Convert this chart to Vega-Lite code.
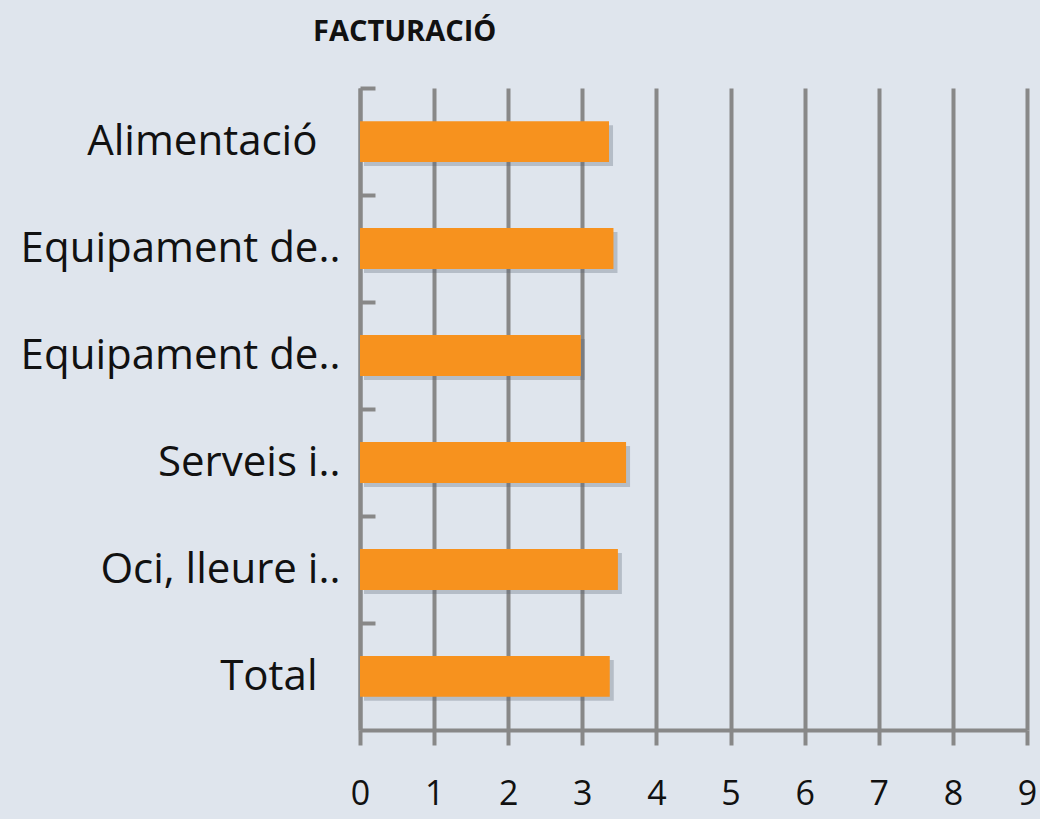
{
  "$schema": "https://vega.github.io/schema/vega-lite/v6.json",
  "width": 667,
  "height": 642,
  "autosize": "none",
  "padding": {"left": 360, "top": 88, "right": 13, "bottom": 89},
  "background": "#dfe5ed",
  "title": {
    "text": "FACTURACIÓ",
    "anchor": "start",
    "frame": "group",
    "dx": -47,
    "offset": 39,
    "font": "Open Sans",
    "fontSize": 29,
    "fontWeight": "bold",
    "color": "#111111"
  },
  "data": {
    "values": [
      {"cat": "Alimentació", "val": 3.36},
      {"cat": "Equipament de..", "val": 3.42},
      {"cat": "Equipament de..\u200b", "val": 2.98},
      {"cat": "Serveis i..", "val": 3.59},
      {"cat": "Oci, lleure i..", "val": 3.48},
      {"cat": "Total", "val": 3.37}
    ]
  },
  "encoding": {
    "y": {
      "field": "cat",
      "type": "nominal",
      "sort": null,
      "title": null,
      "scale": {"paddingInner": 0.617, "paddingOuter": 0.31},
      "axis": {
        "domainColor": "#888888",
        "domainWidth": 4,
        "tickColor": "#888888",
        "tickWidth": 4,
        "tickSize": -15,
        "tickOffset": -53.5,
        "labelOffset": 53.5,
        "labelPadding": {
          "condition": {"test": "datum.value == 'Alimentació' || datum.value == 'Total'", "value": 58},
          "value": 35
        },
        "labelLimit": 600,
        "labelFont": "Open Sans",
        "labelFontSize": 42,
        "labelColor": "#111111",
        "grid": false
      }
    },
    "x": {
      "field": "val",
      "type": "quantitative",
      "title": null,
      "scale": {"domain": [0, 9], "nice": false},
      "axis": {
        "values": [0, 1, 2, 3, 4, 5, 6, 7, 8, 9],
        "domainColor": "#888888",
        "domainWidth": 4,
        "tickColor": "#888888",
        "tickWidth": 4,
        "tickSize": 15,
        "gridColor": "#888888",
        "gridWidth": 4,
        "gridOpacity": 1,
        "labelPadding": 32,
        "labelFont": "Open Sans",
        "labelFontSize": 34,
        "labelColor": "#111111",
        "labelFlush": false
      }
    }
  },
  "layer": [
    {"mark": {"type": "bar", "color": "#556070", "opacity": 0.3, "xOffset": 4, "yOffset": 4}},
    {"mark": {"type": "bar", "color": "#F7921E"}}
  ],
  "config": {"view": {"stroke": null}}
}
